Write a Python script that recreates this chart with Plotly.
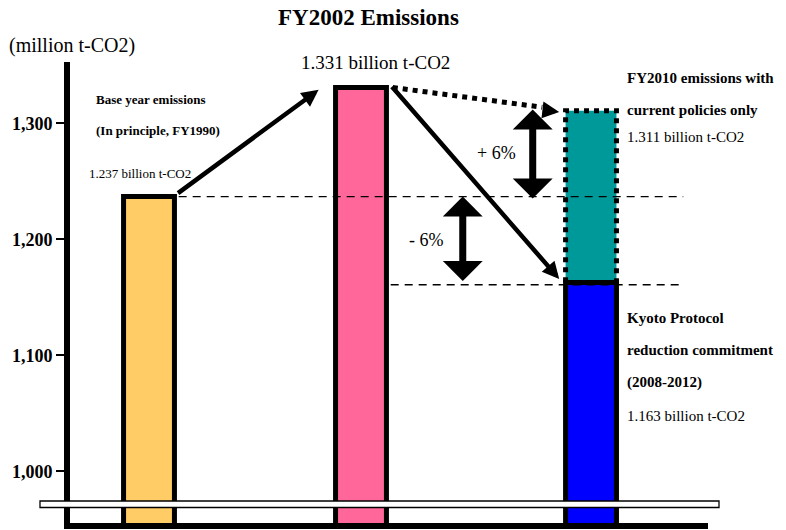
import plotly.graph_objects as go

# ---------------- data ----------------
categories = ["Base year (FY1990)", "FY2002", "FY2010 current policies", "Kyoto commitment"]
base_year = 1237      # million t-CO2
fy2002 = 1331
fy2010_current = 1311
kyoto_target = 1163
tick_values = [1000, 1100, 1200, 1300]
tick_labels = ["1,000", "1,100", "1,200", "1,300"]
pct_up = "+ 6%"
pct_down = "- 6%"

# ---------------- layout helpers ----------------
W, H = 786, 530
L, R, T, B = 70, 708, 62, 523
FONT = "Liberation Serif, Times New Roman, Times, serif"
bar_pos = [1.0, 2.0, 3.085]
bw = 0.24
x1, x2, x3 = bar_pos


def px_x(p):
    return (p - L) / (R - L)


def px_y(p):
    return (B - p) / (B - T)


fig = go.Figure()

# bars
fig.add_trace(go.Bar(x=[x1], y=[base_year], width=bw, marker=dict(color="#FFCC66", line=dict(color="black", width=5)), name=categories[0]))
fig.add_trace(go.Bar(x=[x2], y=[fy2002], width=bw, marker=dict(color="#FF6699", line=dict(color="black", width=5)), name=categories[1]))
fig.add_trace(go.Bar(x=[x3], y=[fy2010_current - kyoto_target], base=[kyoto_target], width=bw,
                     marker=dict(color="#009999", line=dict(width=0)), name=categories[2]))
# dotted outline of the "current policies" bar
fig.add_trace(go.Scatter(x=[x3 - bw / 2, x3 + bw / 2, x3 + bw / 2, x3 - bw / 2, x3 - bw / 2],
                         y=[kyoto_target, kyoto_target, fy2010_current, fy2010_current, kyoto_target],
                         mode="lines", line=dict(color="black", width=5, dash="dot"), hoverinfo="skip"))
fig.add_trace(go.Bar(x=[x3], y=[kyoto_target], width=bw, marker=dict(color="#0000FF", line=dict(color="black", width=5)), name=categories[3]))

# dotted line from FY2002 to FY2010 bar
fig.add_trace(go.Scatter(x=[x2 + bw / 2 + 0.03, x3 - bw / 2 - 0.11],
                         y=[fy2002, fy2010_current + 3],
                         mode="lines", line=dict(color="black", width=5, dash="dot"), hoverinfo="skip"))

shapes = []
# dashed reference lines
shapes.append(dict(type="line", xref="x", yref="y", x0=x1 + bw / 2 + 0.02, x1=3.52, y0=base_year, y1=base_year,
                   line=dict(color="black", width=1.3, dash="8px,6px")))
shapes.append(dict(type="line", xref="x", yref="y", x0=x2 + bw / 2 + 0.02, x1=3.50, y0=kyoto_target - 2, y1=kyoto_target - 2,
                   line=dict(color="black", width=1.3, dash="8px,6px")))
# axis break band
shapes.append(dict(type="rect", xref="paper", yref="paper", x0=px_x(40), x1=px_x(719), y0=px_y(507.5), y1=px_y(501),
                   line=dict(color="black", width=1.3), fillcolor="white", layer="above"))

annotations = []
# arrows
annotations.append(dict(xref="x", yref="y", axref="x", ayref="y", x=x2 - bw / 2 - 0.08, y=fy2002 - 2,
                        ax=x1 + bw / 2 + 0.01, ay=base_year + 2, text="", showarrow=True,
                        arrowhead=2, arrowsize=0.75, arrowwidth=4.5, arrowcolor="black", standoff=0, startstandoff=0))
annotations.append(dict(xref="x", yref="y", axref="x", ayref="y", x=x3 - bw / 2 - 0.03, y=kyoto_target + 3,
                        ax=x2 + bw / 2 + 0.02, ay=fy2002 + 2, text="", showarrow=True,
                        arrowhead=2, arrowsize=0.75, arrowwidth=4.5, arrowcolor="black", standoff=0, startstandoff=0))
# head of dotted arrow
annotations.append(dict(xref="x", yref="y", x=x3 - bw / 2 - 0.03, y=fy2010_current - 1,
                        ax=-14, ay=-1.6, text="", showarrow=True,
                        arrowhead=2, arrowsize=0.75, arrowwidth=4.5, arrowcolor="black", standoff=0))
# double arrows
annotations.append(dict(xref="x", yref="y", axref="x", ayref="y", x=2.81, y=fy2010_current + 1,
                        ax=2.81, ay=base_year - 3, text="", showarrow=True, arrowside="end+start",
                        arrowhead=1, startarrowhead=1, arrowsize=0.95, startarrowsize=0.95, arrowwidth=7,
                        arrowcolor="black", standoff=0, startstandoff=0))
annotations.append(dict(xref="x", yref="y", axref="x", ayref="y", x=2.48, y=base_year,
                        ax=2.48, ay=kyoto_target, text="", showarrow=True, arrowside="end+start",
                        arrowhead=1, startarrowhead=1, arrowsize=0.95, startarrowsize=0.95, arrowwidth=7,
                        arrowcolor="black", standoff=0, startstandoff=0))


def txt(t, x, y, size, bold=False, anchor="left"):
    f = dict(family=FONT, size=size, color="black")
    if bold:
        f["weight"] = "bold"
    annotations.append(dict(xref="paper", yref="paper", x=px_x(x), y=px_y(y), text=t, showarrow=False,
                            xanchor=anchor, yanchor="middle", font=f))


txt("FY2002 Emissions", 368, 18, 23, bold=True, anchor="center")
txt("(million t-CO2)", 7, 45, 20)
txt(f"{fy2002 / 1000:.3f} billion t-CO2", 375, 62, 19, anchor="center")
txt("Base year emissions", 94, 99, 13, bold=True)
txt("(In principle, FY1990)", 94, 130, 13, bold=True)
txt(f"{base_year / 1000:.3f} billion t-CO2", 87, 173, 13)
txt("FY2010 emissions with", 625, 78, 15, bold=True)
txt("current policies only", 625, 110, 15, bold=True)
txt(f"{fy2010_current / 1000:.3f} billion t-CO2", 625, 137, 15)
txt("Kyoto Protocol", 625, 318, 15, bold=True)
txt("reduction commitment", 625, 350, 15, bold=True)
txt("(2008-2012)", 625, 382, 15, bold=True)
txt(f"{kyoto_target / 1000:.3f} billion t-CO2", 625, 416, 15)
txt(pct_up, 496, 153, 18, anchor="center")
txt(pct_down, 426, 240, 18, anchor="center")

fig.update_layout(
    width=W, height=H,
    margin=dict(l=L, r=W - R, t=T, b=H - B, pad=0),
    paper_bgcolor="white", plot_bgcolor="white",
    showlegend=False, barmode="overlay",
    font=dict(family=FONT, color="black"),
    shapes=shapes, annotations=annotations,
    xaxis=dict(range=[1 - (149 - L) / 212, 1 + (R - 149) / 212], showgrid=False, zeroline=False,
               showticklabels=False, ticks="", showline=True, linecolor="black", linewidth=6),
    yaxis=dict(range=[955.6, 1353], showgrid=False, zeroline=False, tickvals=tick_values, ticktext=tick_labels,
               ticks="outside", ticklen=8, tickwidth=1.5, tickcolor="black",
               tickfont=dict(family=FONT, size=18, color="black", weight="bold"),
               showline=True, linecolor="black", linewidth=6),
)

fig.write_html("out.html", config={"displayModeBar": False},
               post_script="document.body.style.margin='0';document.body.style.overflow='hidden';")
